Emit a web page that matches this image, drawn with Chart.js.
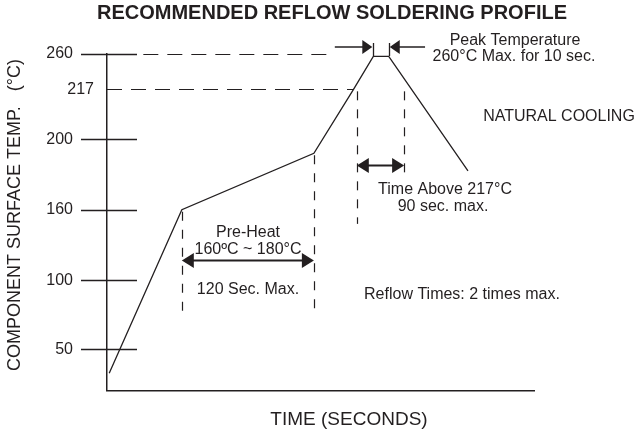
<!DOCTYPE html>
<html><head><meta charset="utf-8">
<script src="https://cdn.jsdelivr.net/npm/chart.js@4"></script>
<style>html,body{margin:0;padding:0;background:#fff;}canvas{display:block;}</style>
</head><body>
<canvas id="c" width="644" height="434"></canvas>
<script>
// ---------------- data ----------------
const profileTimes = [2, 68, 188, 224, 242, 256, 328];      // seconds (schematic)
const profileTemps = [21, 160, 192, 217, 257, 257, 182];     // °C
const tickTemps   = [50, 100, 160, 200, 217, 260];
const tickLabels  = ['50', '100', '160', '200', '217', '260'];
// schematic (non-linear) temperature axis: breakpoints
const axisStops   = [0, 50, 100, 160, 200, 217, 260];
// reference lines / spans (in data units)
const hRefLines   = [{temp: 260, from: 33, to: 205}, {temp: 217, from: 0, to: 224}];
const vRefLines   = [{time: 68, from: 160, to: 78}, {time: 188, from: 192, to: 78},
                     {time: 227, from: 217, to: 148}, {time: 270, from: 217, to: 178}];
const spanArrows  = [{from: 68, to: 188, temp: 117}, {from: 227, to: 270, temp: 185}];
const peakTimes   = [242, 256];
const peakArrowEnds = [207, 289];

// ---------------- style / layout ----------------
const INK = '#231f20';
const FONT = '"Liberation Sans", Arial, Helvetica, sans-serif';
const axisFracs = [0, 0.122, 0.327, 0.537, 0.747, 0.895, 1];

class SchematicScale extends Chart.LinearScale {
  static id = 'schematic';
  static defaults = {};
  _frac(v) {
    const s = axisStops, f = axisFracs;
    let i = 1;
    while (i < s.length - 1 && v > s[i]) i++;
    return f[i - 1] + (v - s[i - 1]) * (f[i] - f[i - 1]) / (s[i] - s[i - 1]);
  }
  getPixelForValue(v) {
    if (v === null || v === undefined || isNaN(v)) return NaN;
    return this.bottom - this._frac(v) * (this.bottom - this.top);
  }
  getValueForPixel(p) {
    const fr = (this.bottom - p) / (this.bottom - this.top);
    const s = axisStops, f = axisFracs;
    let i = 1;
    while (i < f.length - 1 && fr > f[i]) i++;
    return s[i - 1] + (fr - f[i - 1]) * (s[i] - s[i - 1]) / (f[i] - f[i - 1]);
  }
}
Chart.register(SchematicScale);

function arrowHead(ctx, tipX, y, dir, len, half) {
  ctx.beginPath();
  ctx.moveTo(tipX, y);
  ctx.lineTo(tipX - dir * len, y - half);
  ctx.lineTo(tipX - dir * len, y + half);
  ctx.closePath();
  ctx.fill();
}

const decor = {
  id: 'decor',
  afterDraw(chart) {
    const ctx = chart.ctx;
    const xs = chart.scales.x, ys = chart.scales.y;
    ctx.save();
    ctx.strokeStyle = INK; ctx.fillStyle = INK;

    // tick marks (crossing the axis), none for 217
    ctx.lineWidth = 1.3;
    tickTemps.forEach(t => {
      if (t === 217) return;
      const y = Math.round(ys.getPixelForValue(t)) + 0.5;
      ctx.beginPath(); ctx.moveTo(ys.right - 26, y); ctx.lineTo(ys.right + 30, y); ctx.stroke();
    });

    // dashed reference lines
    ctx.lineWidth = 1.2;
    ctx.setLineDash([15, 9]);
    hRefLines.forEach(r => {
      const y = Math.round(ys.getPixelForValue(r.temp)) + 0.5;
      ctx.beginPath(); ctx.moveTo(xs.getPixelForValue(r.from), y); ctx.lineTo(xs.getPixelForValue(r.to), y); ctx.stroke();
    });
    ctx.setLineDash([9, 9]);
    vRefLines.forEach(r => {
      const x = Math.round(xs.getPixelForValue(r.time)) + 0.5;
      ctx.beginPath(); ctx.moveTo(x, ys.getPixelForValue(r.from) + 2); ctx.lineTo(x, ys.getPixelForValue(r.to)); ctx.stroke();
    });
    ctx.setLineDash([]);

    // double arrows
    ctx.lineWidth = 2;
    spanArrows.forEach(a => {
      const x1 = xs.getPixelForValue(a.from), x2 = xs.getPixelForValue(a.to);
      const y = ys.getPixelForValue(a.temp);
      ctx.beginPath(); ctx.moveTo(x1 + 8, y); ctx.lineTo(x2 - 8, y); ctx.stroke();
      arrowHead(ctx, x1, y, -1, 12, 7.5);
      arrowHead(ctx, x2, y, 1, 12, 7.5);
    });

    // peak arrows
    const y260 = ys.getPixelForValue(260);
    const ay = y260 - 7;
    const p1 = xs.getPixelForValue(peakTimes[0]), p2 = xs.getPixelForValue(peakTimes[1]);
    ctx.lineWidth = 1.3;
    [p1, p2].forEach(px => {
      const x = Math.round(px) + 0.5;
      ctx.beginPath(); ctx.moveTo(x, y260 - 11); ctx.lineTo(x, y260 + 2); ctx.stroke();
    });
    ctx.lineWidth = 1.5;
    ctx.beginPath(); ctx.moveTo(xs.getPixelForValue(peakArrowEnds[0]), ay); ctx.lineTo(p1 - 8, ay); ctx.stroke();
    ctx.beginPath(); ctx.moveTo(p2 + 8, ay); ctx.lineTo(xs.getPixelForValue(peakArrowEnds[1]), ay); ctx.stroke();
    arrowHead(ctx, p1 - 1, ay, 1, 10, 7);
    arrowHead(ctx, p2 + 1, ay, -1, 10, 7);

    // 217 tick label (sits closer to the axis)
    ctx.font = '16px ' + FONT;
    ctx.textAlign = 'right'; ctx.textBaseline = 'middle';
    ctx.fillText('217', ys.right - 13, ys.getPixelForValue(217));

    // annotation texts
    ctx.textAlign = 'center';
    const notes = [
      ['Peak Temperature', 515, 41], ['260°C Max. for 10 sec.', 514, 57],
      ['NATURAL COOLING', 559, 117],
      ['Time Above 217°C', 445, 190], ['90 sec. max.', 443, 207],
      ['Pre-Heat', 248, 233], ['160ºC ~ 180°C', 248, 250], ['120 Sec. Max.', 248, 290],
      ['Reflow Times: 2 times max.', 462, 295]
    ];
    notes.forEach(n => ctx.fillText(n[0], n[1], n[2]));

    // title
    ctx.font = 'bold 20px ' + FONT;
    ctx.fillText('RECOMMENDED REFLOW SOLDERING PROFILE', 332, 13);

    // axis titles
    ctx.font = '19px ' + FONT;
    ctx.fillText('TIME (SECONDS)', 349, 420);
    ctx.font = '18px ' + FONT;
    ctx.translate(15, 215);
    ctx.rotate(-Math.PI / 2);
    ctx.fillText('COMPONENT SURFACE TEMP.   (°C)', 0, 0);
    ctx.restore();
  }
};

new Chart(document.getElementById('c'), {
  type: 'line',
  data: {
    datasets: [{
      data: profileTimes.map((t, i) => ({x: t, y: profileTemps[i]})),
      borderColor: INK, borderWidth: 1.3, pointRadius: 0, tension: 0, fill: false, clip: false
    }]
  },
  options: {
    responsive: false, animation: false, events: [],
    layout: {padding: {top: 54, right: 110, bottom: 28, left: 0}},
    plugins: {legend: {display: false}, tooltip: {enabled: false}, title: {display: false}},
    scales: {
      x: {
        type: 'linear', min: 0, max: 388,
        grid: {display: false, drawTicks: false},
        ticks: {display: false},
        border: {display: true, color: INK, width: 1.5},
        afterFit(s) { s.height = 0; }
      },
      y: {
        type: 'schematic', min: 0, max: 260,
        grid: {display: false, drawTicks: false},
        border: {display: true, color: INK, width: 1.5},
        afterBuildTicks(s) { s.ticks = tickTemps.map(v => ({value: v})); },
        ticks: {
          color: INK, padding: 34, font: {family: FONT, size: 16},
          callback: (v, i) => (tickTemps[i] === 217 ? '' : tickLabels[i])
        },
        afterFit(s) { s.width = 107; }
      }
    }
  },
  plugins: [decor]
});
</script>
</body></html>
